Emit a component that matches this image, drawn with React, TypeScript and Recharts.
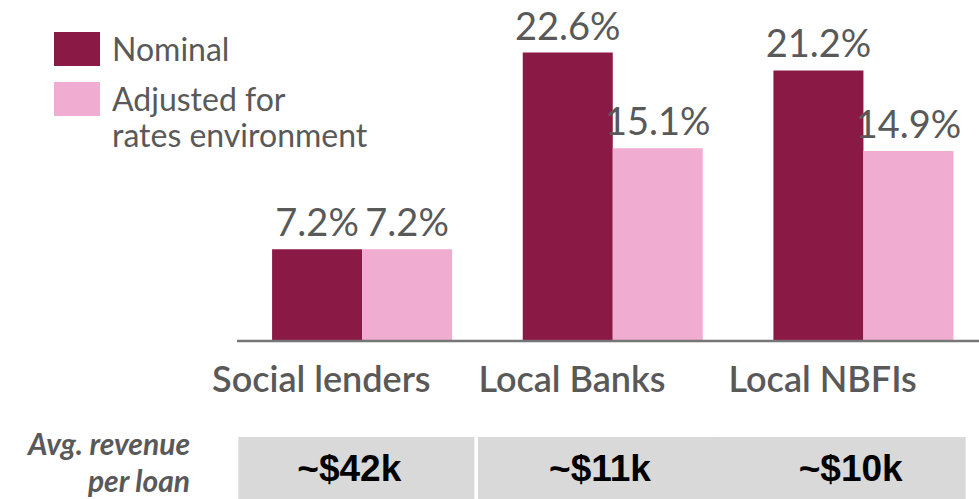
import { BarChart, Bar, XAxis, YAxis, Legend, LabelList } from "recharts";

const categories = ["Social lenders", "Local Banks", "Local NBFIs"];
const nominal = [7.2, 22.6, 21.2];
const adjusted = [7.2, 15.1, 14.9];
const revenue = ["~$42k", "~$11k", "~$10k"];
const seriesOrder = ["Nominal", "Adjusted for\nrates environment"];
const revenueCaption = ["Avg. revenue", "per loan"];

const data = categories.map((name, i) => ({
  name,
  nominal: nominal[i],
  adjusted: adjusted[i],
  revenue: revenue[i],
}));

const DARK = "#8A1946";
const PINK = "#F1ACD2";
const GREY = "#595959";
const FONT = "Lato, 'Open Sans', sans-serif";

function LegendBox({ payload }: any) {
  const items = [...(payload || [])].sort(
    (a: any, b: any) => seriesOrder.indexOf(a.value) - seriesOrder.indexOf(b.value)
  );
  return (
    <div style={{ fontFamily: FONT }}>
      {items.map((p: any) => (
        <div key={p.value} style={{ display: "flex", alignItems: "flex-start", marginBottom: 15 }}>
          <span style={{ width: 46, height: 34, background: p.color, flex: "none" }} />
          <span
            style={{
              marginLeft: 12,
              fontSize: 32,
              lineHeight: "36px",
              color: GREY,
              whiteSpace: "pre-line",
              marginTop: -1,
            }}
          >
            {p.value}
          </span>
        </div>
      ))}
    </div>
  );
}

function RevenueTick({ x, y, payload, index }: any) {
  const left = x - 124 - index * 11;
  const w = 236 + index * 6;
  return (
    <g>
      <rect x={left} y={y + 16} width={w} height={64} fill="#D9D9D9" />
      <text
        x={x - 13}
        y={y + 60}
        textAnchor="middle"
        fontFamily="'Liberation Sans', Arial, sans-serif"
        fontWeight={700}
        fontSize={37}
        fill="#000"
      >
        {payload.value}
      </text>
    </g>
  );
}

export default function App() {
  return (
    <div
      style={{
        position: "absolute",
        left: 0,
        top: 0,
        width: 979,
        height: 499,
        overflow: "hidden",
        background: "#fff",
        fontFamily: FONT,
      }}
    >
      <BarChart
        width={1000}
        height={499}
        data={data}
        margin={{ top: 22, right: 11, bottom: 0, left: 237 }}
        barCategoryGap="14%"
        barGap={0}
      >
        <YAxis hide domain={[0, 25]} />
        <XAxis
          dataKey="name"
          height={80}
          axisLine={{ stroke: "#767676", strokeWidth: 2.5 }}
          tickLine={false}
          tickSize={0}
          tickMargin={25}
          dx={-41}
          tick={{ fill: GREY, fontSize: 36, fontWeight: 600, fontFamily: FONT }}
        />
        <XAxis
          xAxisId="rev"
          dataKey="revenue"
          height={78}
          axisLine={false}
          tickLine={false}
          tickSize={0}
          tickMargin={0}
          tick={<RevenueTick />}
        />
        <Legend
          layout="vertical"
          align="center"
          verticalAlign="middle"
          content={<LegendBox />}
          wrapperStyle={{ top: 32, left: 54, width: 400 }}
        />
        <Bar dataKey="nominal" name="Nominal" fill={DARK} isAnimationActive={false}>
          <LabelList
            dataKey="nominal"
            position="top"
            offset={13}
            formatter={(v: any) => `${v}%`}
            fill={GREY}
            fontSize={38}
            fontFamily={FONT}
          />
        </Bar>
        <Bar
          dataKey="adjusted"
          name={"Adjusted for\nrates environment"}
          fill={PINK}
          isAnimationActive={false}
        >
          <LabelList
            dataKey="adjusted"
            position="top"
            offset={13}
            formatter={(v: any) => `${v}%`}
            fill={GREY}
            fontSize={38}
            fontFamily={FONT}
          />
        </Bar>
      </BarChart>
      {revenueCaption.map((line, i) => (
        <div
          key={line}
          style={{
            position: "absolute",
            left: 0,
            top: 425 + i * 37,
            width: 190,
            height: 36,
            textAlign: "right",
            fontStyle: "italic",
            fontWeight: 700,
            fontSize: 30,
            lineHeight: "36px",
            color: GREY,
          }}
        >
          {line}
        </div>
      ))}
    </div>
  );
}
